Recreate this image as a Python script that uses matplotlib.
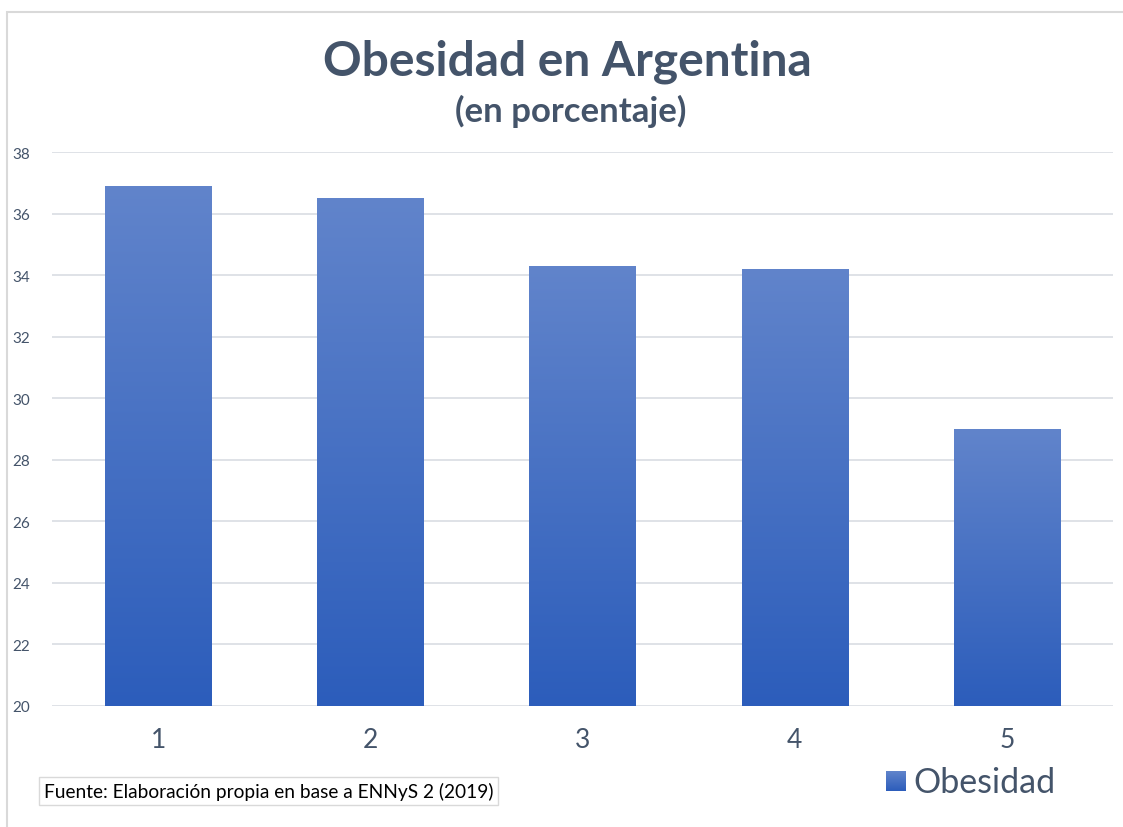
import numpy as np
import matplotlib
matplotlib.use("Agg")
import matplotlib.pyplot as plt
from matplotlib.patches import Rectangle
from matplotlib.colors import LinearSegmentedColormap

plt.rcParams['font.family'] = ['Lato', 'DejaVu Sans']

categorias = [1, 2, 3, 4, 5]
obesidad = [36.9, 36.5, 34.3, 34.2, 29.0]
y_ticks = [20, 22, 24, 26, 28, 30, 32, 34, 36, 38]

text_col = '#44546a'
grad = LinearSegmentedColormap.from_list('azul', ['#2c5dbb', '#6184cb'])

fig = plt.figure(figsize=(11.23, 8.28), dpi=100)
ax = fig.add_axes([52 / 1123, 1 - 707 / 828, 1061 / 1123, 554 / 828])

# marco del grafico
fig.patches.append(Rectangle((7 / 1123, -0.01), 1.2, 1 - 13 / 828 + 0.01, transform=fig.transFigure,
                             fill=False, edgecolor='#d9d9d9', linewidth=1.5))

ax.set_xlim(0.5, 5.5)
ax.set_ylim(20, 38)
ax.set_yticks(y_ticks)
ax.grid(axis='y', color='#d9dde3', linewidth=1.2)
ax.set_axisbelow(True)
for s in ax.spines.values():
    s.set_visible(False)

w = 0.5
bars = ax.bar(categorias, obesidad, width=w, color='none', zorder=2)
g = np.linspace(0, 1, 256).reshape(-1, 1)
for b, x, v in zip(bars, categorias, obesidad):
    im = ax.imshow(g, cmap=grad, aspect='auto', origin='lower',
                   extent=[x - w / 2, x + w / 2, 20, v], zorder=2)
    im.set_clip_path(b)

ax.set_xticks(categorias)
ax.set_xticklabels([str(c) for c in categorias])
ax.tick_params(axis='x', length=0, pad=15, labelsize=19, labelcolor=text_col)
ax.tick_params(axis='y', length=0, pad=16, labelsize=11, labelcolor=text_col)

fig.text(0.505, 1 - 62 / 828, 'Obesidad en Argentina', ha='center', va='center',
         fontsize=34.5, fontweight='bold', color=text_col)
fig.text(0.508, 1 - 111 / 828, '(en porcentaje)', ha='center', va='center',
         fontsize=25, fontweight='bold', color=text_col)

fig.text(44 / 1123, 1 - 792 / 828, 'Fuente: Elaboración propia en base a ENNyS 2 (2019)',
         ha='left', va='center', fontsize=13.8, color='black',
         bbox=dict(boxstyle='square,pad=0.25', facecolor='white', edgecolor='#d9d9d9', linewidth=1))

# leyenda
lax = fig.add_axes([886 / 1123, 1 - 792 / 828, 20 / 1123, 20 / 828])
lax.imshow(g, cmap=grad, aspect='auto', origin='lower', extent=[0, 1, 0, 1])
lax.axis('off')
fig.text(913 / 1123, 1 - 783 / 828, 'Obesidad', ha='left', va='center',
         fontsize=24.5, color=text_col)

fig.savefig('out.png', dpi=100)
